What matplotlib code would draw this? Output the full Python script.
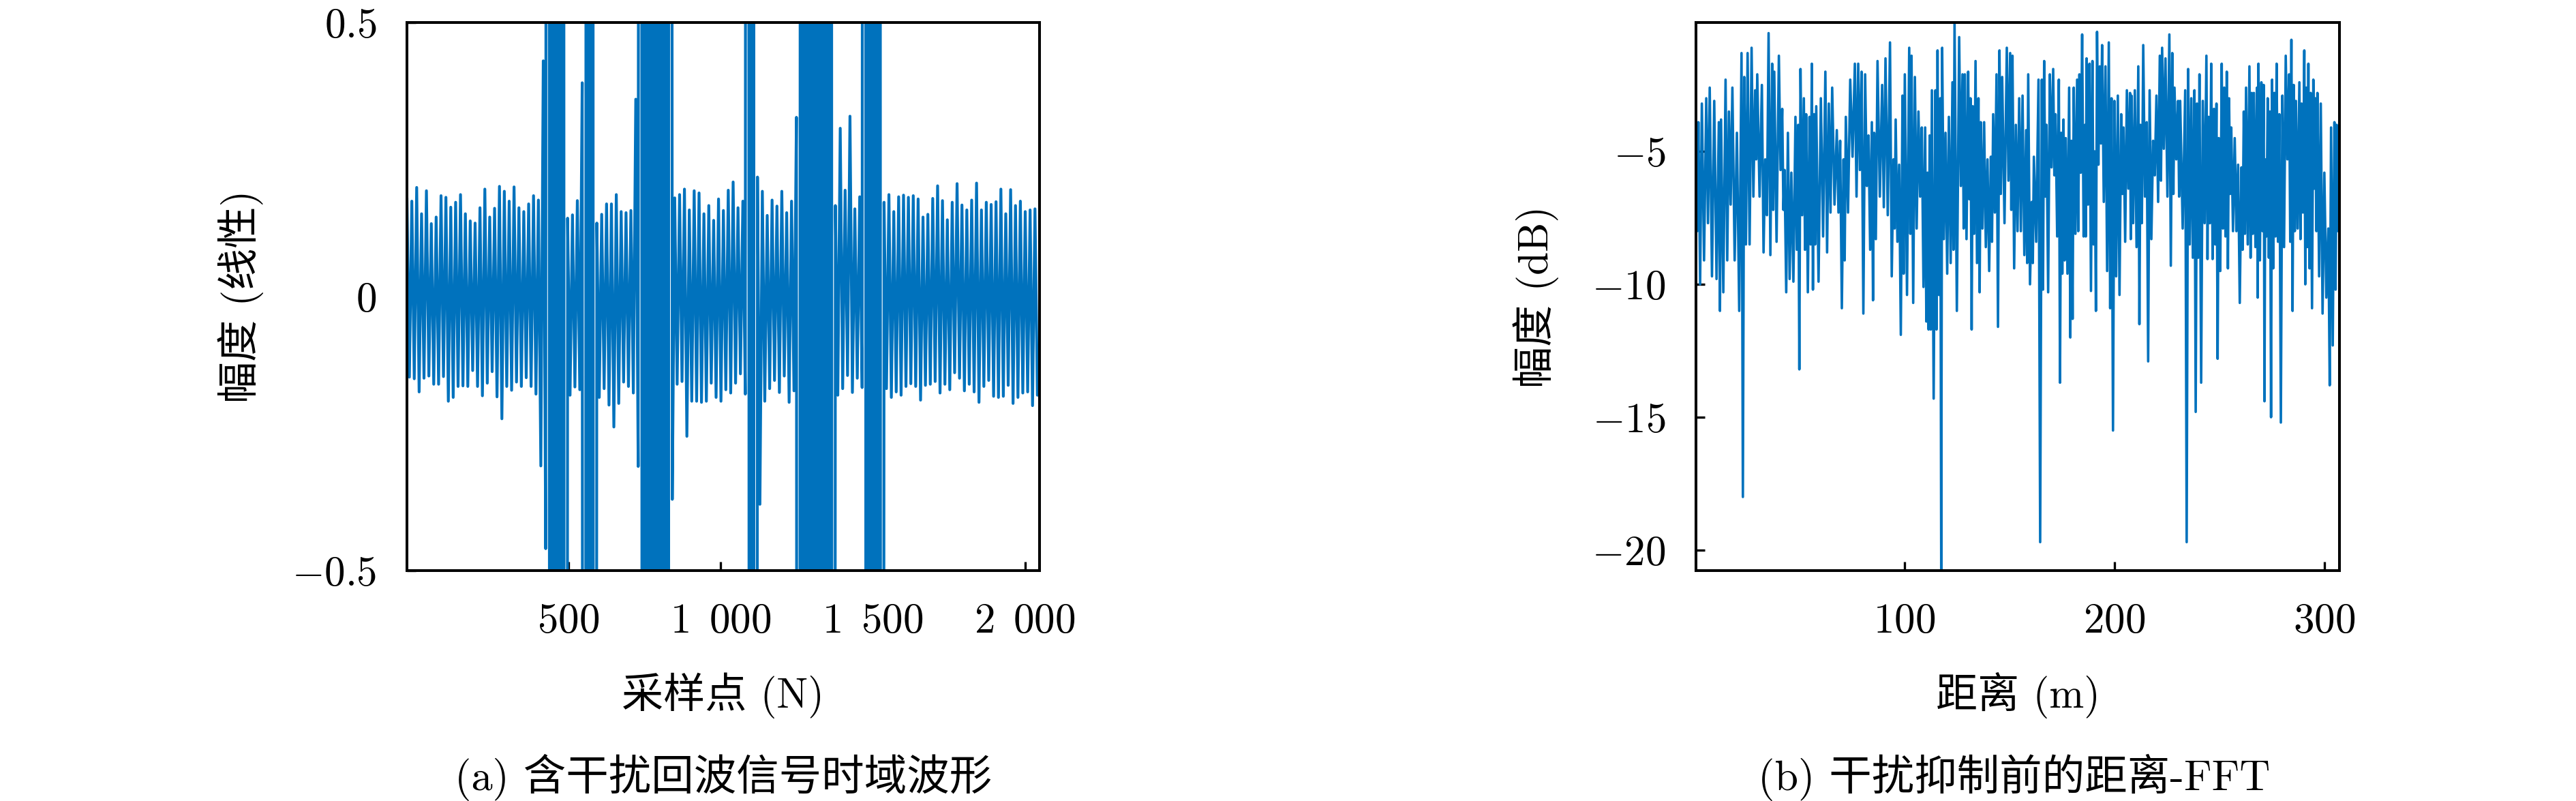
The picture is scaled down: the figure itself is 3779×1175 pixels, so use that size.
import numpy as np
import matplotlib
matplotlib.use("Agg")
from matplotlib import pyplot as plt

# ---- (a) echo with interference: local peak / trough of each ripple
# values of 10 / -10 stand for the interference bursts that run off the +-0.5 scale
B = 10
echo_hi = [0.180, 0.174, 0.199, 0.151, 0.193, 0.133, 0.145, 0.184, 0.181, 0.163,
           0.172, 0.186, 0.151, 0.138, 0.134, 0.162, 0.196, 0.145, 0.161, 0.201,
           0.192, 0.174, 0.200, 0.162, 0.155, 0.169, 0.184, 0.176, 0.43, B, B, B, B,
           0.143, 0.149, 0.175, 0.39, B, B,
           0.134, 0.150, 0.169, 0.169, 0.186, 0.155, 0.153, 0.157, 0.36,
           B, B, B, B, B, B, B,
           0.180, 0.186, 0.196, 0.158, 0.193, 0.189, 0.151, 0.166, 0.139,
           0.178, 0.157, 0.194, 0.209, 0.162, 0.174, B, B, 0.218,
           0.192, 0.148, 0.176, 0.165, 0.192, 0.153, 0.174, 0.327,
           B, B, B, B, B, B, B,
           0.166, 0.307, 0.194, 0.329, 0.160, 0.182, B, B, B, B,
           0.172, 0.186, 0.155, 0.182, 0.185, 0.181, 0.184, 0.178, 0.145, 0.150,
           0.179, 0.202, 0.175, 0.140, 0.172, 0.206, 0.167, 0.158, 0.176, 0.207,
           0.158, 0.172, 0.168, 0.173, 0.196, 0.151, 0.195, 0.166, 0.174, 0.155,
           0.158, 0.160]
echo_lo = [-0.147, -0.150, -0.174, -0.149, -0.145, -0.160, -0.160, -0.146, -0.191, -0.184,
           -0.164, -0.163, -0.164, -0.135, -0.164, -0.181, -0.158, -0.137, -0.183, -0.223,
           -0.164, -0.171, -0.156, -0.164, -0.148, -0.164, -0.178, -0.309, -0.46,
           -B, -B, -B, -B, -0.180, -0.165, -0.170, -B, -B, -B,
           -0.184, -0.168, -0.198, -0.238, -0.195, -0.156, -0.164, -0.176, -0.31,
           -B, -B, -B, -B, -B, -B, -0.37,
           -0.160, -0.155, -0.255, -0.191, -0.191, -0.193, -0.191, -0.158, -0.184, -0.191,
           -0.170, -0.176, -0.158, -0.141, -0.178, -B, -B,
           -0.379, -0.191, -0.168, -0.153, -0.175, -0.145, -0.193, -0.172,
           -B, -B, -B, -B, -B, -B, -B, -B,
           -0.180, -0.168, -0.144, -0.175, -0.149, -0.166, -B, -B, -B, -B,
           -0.168, -0.184, -0.174, -0.180, -0.164, -0.159, -0.164, -0.189, -0.162, -0.160,
           -0.155, -0.176, -0.160, -0.170, -0.139, -0.149, -0.172, -0.160, -0.174, -0.193,
           -0.164, -0.153, -0.182, -0.184, -0.182, -0.162, -0.195, -0.184, -0.176, -0.174,
           -0.199, -0.180]
echo_first = -31      # first sample index shown
echo_step = 8         # samples between a peak and the next trough
xticks_a = [500, 1000, 1500, 2000]
xlabels_a = [r'$500$', r'$1\enspace000$', r'$1\enspace500$', r'$2\enspace000$']
yticks_a = [-0.5, 0, 0.5]
ylabels_a = [r'$-0.5$', r'$0$', r'$0.5$']

# ---- (b) range FFT before suppression: distance (m), local max and min (dB)
fft_m = [0.6, 1.75, 3.4, 5.5, 7.15, 9.3, 11.5, 12.55, 14.7, 16.3, 17.95, 20.1, 22.3, 23.6, 25.2,
         27.1, 28.8, 29.8, 32.0, 33.6, 35.2, 36.9, 37.9, 40.1, 41.7, 42.8, 44.4, 46.05, 48.0,
         49.3, 50.4, 52.0, 53.1, 54.7, 55.8, 56.85, 57.9, 60.1, 62.25, 63.9, 65.5, 67.7, 69.3,
         70.9, 72.0, 74.1, 76.3, 77.9, 79.5, 81.2, 82.8, 84.4, 85.5, 87.1, 89.3, 90.9, 93.05,
         94.7, 95.75, 97.4, 99.0, 100.1, 102.2, 103.3, 104.9, 106.6, 108.2, 109.8, 110.9,
         111.95, 113.0, 114.7, 115.7, 117.0, 117.9, 119.5, 121.1, 122.8, 123.8, 126.0, 127.6,
         128.7, 130.3, 131.4, 132.5, 133.8, 135.2, 136.3, 137.9, 139.5, 141.1, 142.2, 143.8,
         145.2, 146.5, 148.7, 150.3, 151.4, 153.0, 154.6, 156.2, 157.9, 158.9, 160.6, 161.6,
         163.8, 165.4, 166.5, 167.6, 169.2, 170.8, 171.9, 173.5, 174.6, 175.7, 176.8, 178.4,
         179.5, 180.6, 182.2, 183.3, 184.6, 186.0, 186.7, 188.1, 189.5, 190.6, 191.7, 193.0,
         194.1, 195.7, 197.3, 198.6, 200.0, 201.6, 203.2, 204.3, 205.9, 207.4, 208.1, 209.7,
         211.35, 212.4, 213.7, 215.35, 216.75, 218.4, 220.0, 221.6, 222.7, 224.3, 226.15,
         227.55, 228.6, 230.3, 231.3, 233.7, 235.1, 236.6, 238.1, 239.3, 240.5, 242.1, 243.8,
         244.85, 246.1, 247.4, 248.6, 249.7, 251.1, 252.3, 253.5, 254.6, 255.65, 257.3, 258.9,
         260.5, 261.6, 262.7, 264.3, 265.4, 266.45, 267.9, 268.6, 270.0, 271.1, 271.85, 273.0,
         274.1, 275.1, 276.2, 277.25, 278.55, 280.0, 281.6, 283.2, 284.3, 285.4, 286.45, 288.1,
         289.15, 290.45, 291.4, 292.4, 293.5, 294.75, 295.7, 296.7, 298.3, 300.0, 301.9, 303.2,
         304.8, 305.9]
fft_hi = [-7.7, -3.9, -3.2, -3.0, -2.6, -3.1, -3.9, -3.8, -2.3, -3.5, -2.6, -4.3, -1.3, -2.2, -1.3,
          -1.1, -2.7, -2.1, -2.5, -5.3, -0.55, -1.7, -2.0, -1.4, -3.4, -5.7, -4.3, -5.8, -3.7,
          -4.0, -1.9, -3.0, -3.6, -3.7, -1.7, -3.6, -3.3, -3.0, -2.0, -3.2, -2.6, -4.2, -4.6,
          -5.3, -3.7, -2.3, -1.7, -1.7, -2.0, -2.1, -4.4, -3.9, -4.3, -1.6, -2.5, -1.5, -0.9,
          -5.3, -3.8, -5.5, -2.9, -2.1, -1.1, -1.4, -2.2, -3.5, -4.1, -4.1, -5.8,
          -4.4, -2.7, -2.7, -1.2, -3.0, -1.1, -4.3, -3.7, -2.4, -0.15, -0.7, -2.1,
          -2.1, -2.0, -3.0, -3.3, -1.6, -3.0, -3.9, -3.9, -5.3, -5.2, -3.6, -2.1,
          -1.2, -2.2, -1.1, -1.3, -1.4, -4.0, -3.0, -2.9, -4.2, -2.1, -6.9, -5.2,
          -2.3, -2.3, -1.6, -4.0, -2.1, -1.9, -3.6, -2.3, -4.3, -3.8, -4.5, -2.6,
          -4.6, -2.6, -2.3, -2.1, -0.6, -4.0, -1.5, -1.7, -1.6, -5.0, -0.5, -1.8,
          -1.0, -1.8, -0.9, -3.0, -3.1, -2.9, -3.6, -4.1, -2.7, -2.8, -2.9, -2.7,
          -1.8, -4.0, -1.0, -3.9, -2.7, -4.6, -2.9, -1.4, -1.1, -1.5, -0.6,
          -1.3, -2.6, -3.1, -3.1, -2.7, -1.9, -3.0, -2.7, -3.2, -2.1, -3.1, -1.4,
          -3.7, -1.7, -3.4, -3.2, -4.5, -1.7, -2.6, -2.0, -3.0, -4.1, -4.5, -5.5,
          -5.6, -3.5, -2.6, -1.8, -2.8, -2.8, -2.6, -1.7, -2.4, -2.5, -5.3, -3.0,
          -3.5, -2.3, -2.8, -1.7, -3.6, -2.9, -1.4, -2.1, -0.8, -2.5, -3.1, -2.4,
          -3.2, -1.2, -2.6, -1.7, -2.8, -2.3, -3.0, -2.8, -3.2, -5.8, -7.9, -4.1,
          -3.9, -4.0]
fft_lo = [-8.0, -10.0, -9.1, -7.7, -9.7, -9.8, -11.0, -10.3, -9.1, -7.0, -9.1, -11.0, -18.0, -8.5, -8.5,
          -6.7, -5.3, -6.7, -8.8, -7.4, -8.9, -7.2, -8.4, -5.7, -7.2, -10.3, -9.8, -9.9, -8.7,
          -13.2, -7.4, -8.7, -10.3, -8.5, -10.2, -8.5, -9.9, -8.2, -8.8, -7.3, -7.0, -7.3, -10.9,
          -9.1, -7.3, -5.2, -6.7, -5.7, -11.1, -6.3, -8.7, -10.6, -8.3, -6.7, -7.1, -7.4, -9.7,
          -7.9, -8.4, -11.9, -9.6, -10.4, -8.1, -10.7, -7.9, -6.7, -10.1, -11.4, -11.7,
          -11.7, -14.3, -11.7, -10.4, -20.77, -8.3, -9.6, -9.2, -8.7, -11.0, -6.3, -7.9,
          -8.3, -6.8, -11.7, -8.1, -9.2, -10.3, -7.9, -8.6, -9.5, -8.4, -7.3, -11.6,
          -6.6, -7.7, -6.1, -7.2, -9.4, -8.0, -8.0, -8.9, -9.2, -10.0, -9.2, -8.4,
          -19.7, -10.2, -6.7, -10.3, -5.6, -5.9, -8.2, -13.7, -9.6, -9.1, -9.6, -12.0,
          -11.3, -8.1, -8.0, -5.8, -8.2, -8.2, -7.0, -10.25, -8.5, -11.0, -5.5, -4.7,
          -6.9, -9.5, -10.9, -15.5, -9.7, -10.4, -6.6, -8.4, -6.4, -8.3, -7.7, -8.6,
          -11.5, -7.7, -6.7, -12.9, -8.3, -5.9, -6.9, -6.1, -4.9, -6.7, -9.3,
          -6.6, -5.3, -6.7, -7.9, -19.7, -8.5, -9.0, -14.8, -9.0, -13.7, -7.7, -9.05,
          -7.7, -9.05, -8.5, -12.8, -9.5, -7.9, -8.2, -9.4, -6.6, -8.0, -8.0, -10.7,
          -8.7, -8.1, -8.5, -9.0, -8.1, -8.6, -10.5, -9.1, -8.0, -14.4, -8.2, -9.0,
          -15.0, -9.4, -8.2, -8.4, -15.2, -8.6, -5.3, -8.4, -11.0, -8.0, -7.9, -8.3,
          -7.3, -10.0, -8.6, -9.4, -10.9, -6.4, -8.0, -9.7, -11.1, -10.5, -13.8, -12.3,
          -10.2, -8.0]
fft_end_m = 307.2
xticks_b = [100, 200, 300]
yticks_b = [-20, -15, -10, -5]

blue = '#0072BD'
plt.rcParams['font.family'] = ['cmr10', 'Noto Sans CJK SC']
plt.rcParams['mathtext.fontset'] = 'cm'
plt.rcParams['axes.formatter.use_mathtext'] = True
plt.rcParams['path.simplify'] = False
fs = 44

fig = plt.figure(figsize=(37.8, 11.75), dpi=100)
W, H = 3780, 1175
ax1 = fig.add_axes([597 / W, 1 - 837 / H, 928 / W, 804 / H])
ax2 = fig.add_axes([2488 / W, 1 - 837 / H, 944 / W, 804 / H])

# (a)
hi = np.asarray(echo_hi, dtype=float)
lo = np.asarray(echo_lo, dtype=float)
sig = np.column_stack([hi, lo]).ravel()
n_idx = echo_first + echo_step * np.arange(sig.size)
ax1.plot(n_idx, sig, color=blue, lw=3.0, solid_joinstyle='round', solid_capstyle='round')
# the off-scale bursts are dense in the real record, so show them as solid blocks
burst = np.abs(sig) > 1
ax1.fill_between(n_idx, -np.abs(sig), np.abs(sig), where=burst, color=blue, lw=0)
ax1.set_xlim(echo_first, 2048)
ax1.set_ylim(-0.5, 0.5)
ax1.set_xticks(xticks_a)
ax1.set_xticklabels(xlabels_a)
ax1.set_yticks(yticks_a)
ax1.set_yticklabels(ylabels_a)

# (b)
m = np.asarray(fft_m)
mid = (m + np.append(m[1:], fft_end_m)) / 2
xs = np.column_stack([m, mid]).ravel()
ys = np.column_stack([fft_hi, fft_lo]).ravel()
ax2.plot(xs, ys, color=blue, lw=2.6, solid_joinstyle='round', solid_capstyle='round')
ax2.set_xlim(0.6, fft_end_m)
ax2.set_ylim(ys.min(), ys.max())
ax2.set_xticks(xticks_b)
ax2.set_xticklabels([r'$%d$' % v for v in xticks_b])
ax2.set_yticks(yticks_b)
ax2.set_yticklabels([r'$%d$' % v for v in yticks_b])

for ax in (ax1, ax2):
    for s in ax.spines.values():
        s.set_linewidth(2.9)
        s.set_zorder(5)
    ax.tick_params(direction='in', length=9.5, width=2.4, labelsize=fs,
                   top=False, right=False)
    ax.tick_params(axis='x', pad=34)
    ax.tick_params(axis='y', pad=32)

ax1.set_ylabel('幅度 (线性)', fontsize=fs)
ax1.yaxis.set_label_coords((353 - 597) / 928, 0.5)
ax1.set_xlabel('采样点 (N)', fontsize=fs)
ax1.xaxis.set_label_coords(0.5, (837 - 1020) / 804)
ax1.xaxis.label.set_va('center')
ax1.yaxis.label.set_va('center')

ax2.set_ylabel('幅度 (dB)', fontsize=fs)
ax2.yaxis.set_label_coords((2253 - 2488) / 944, 0.5)
ax2.set_xlabel('距离 (m)', fontsize=fs)
ax2.xaxis.set_label_coords(0.5, (837 - 1020) / 804)
ax2.xaxis.label.set_va('center')
ax2.yaxis.label.set_va('center')

fig.text(1061 / W, 1 - 1140 / H, '(a) 含干扰回波信号时域波形', fontsize=45,
         ha='center', va='center')
fig.text(2955 / W, 1 - 1140 / H, '(b) 干扰抑制前的距离-FFT', fontsize=45,
         ha='center', va='center')

fig.savefig('out.png', dpi=100)
